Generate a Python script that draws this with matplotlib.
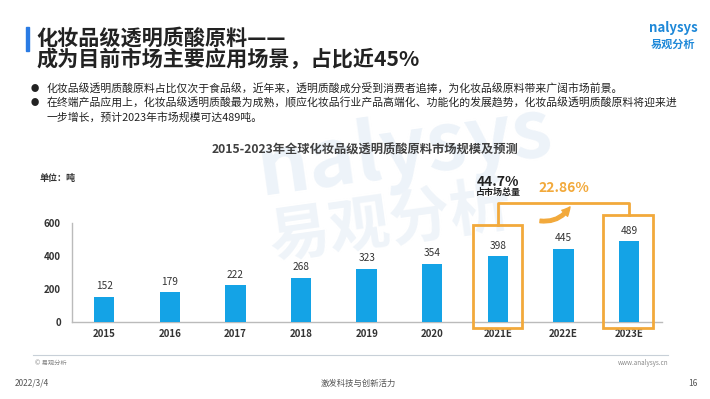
import numpy as np
import matplotlib.pyplot as plt
from matplotlib.patches import Rectangle, FancyArrowPatch

plt.rcParams['font.family'] = ['Noto Sans CJK SC', 'DejaVu Sans']

# data
years = ['2015', '2016', '2017', '2018', '2019', '2020', '2021E', '2022E', '2023E']
tons = [152, 179, 222, 268, 323, 354, 398, 445, 489]
y_ticks = [0, 200, 400, 600]

blue = '#14A3E6'
orange = '#F2A93B'
dark = '#333333'

fig = plt.figure(figsize=(7.1, 3.99), dpi=100)
fig.patch.set_facecolor('white')

# faint background watermark
fig.text(0.57, 0.62, 'nalysys', fontsize=58, color='#EDF3F9', ha='center',
         va='center', rotation=8, fontweight='bold', zorder=-5)
fig.text(0.55, 0.44, '易观分析', fontsize=44, color='#EFF4F9', ha='center',
         va='center', rotation=8, fontweight='bold', zorder=-5)

# header
fig.add_artist(Rectangle((26 / 710, 1 - 51 / 399), 3 / 710, 24 / 399,
                         transform=fig.transFigure, color='#2A7BE4'))
fig.text(36 / 710, 1 - 38 / 399, '化妆品级透明质酸原料——', fontsize=15.2,
         fontweight='bold', color='#222222', va='center')
fig.text(36 / 710, 1 - 59 / 399, '成为目前市场主要应用场景，占比近45%', fontsize=15.2,
         fontweight='bold', color='#222222', va='center')
fig.text(673 / 710, 1 - 28 / 399, 'nalysys', fontsize=9.5, color='#1E88D8',
         ha='center', va='center', fontweight='bold')
fig.text(673 / 710, 1 - 44 / 399, '易观分析', fontsize=8, color='#1E88D8',
         ha='center', va='center', fontweight='bold')

bullets = [
    (88, '●', '化妆品级透明质酸原料占比仅次于食品级，近年来，透明质酸成分受到消费者追捧，为化妆品级原料带来广阔市场前景。'),
    (103, '●', '在终端产品应用上，化妆品级透明质酸最为成熟，顺应化妆品行业产品高端化、功能化的发展趋势，化妆品级透明质酸原料将迎来进'),
    (117, '', '一步增长，预计2023年市场规模可达489吨。'),
]
for yy, b, t in bullets:
    if b:
        fig.text(35 / 710, 1 - yy / 399, b, fontsize=6, color='#222222', va='center', ha='center')
    fig.text(47 / 710, 1 - yy / 399, t, fontsize=7.8, color='#222222', va='center')

fig.text(365 / 710, 1 - 150 / 399, '2015-2023年全球化妆品级透明质酸原料市场规模及预测',
         fontsize=8.8, fontweight='bold', color='#404040', ha='center', va='center')
fig.text(40 / 710, 1 - 179 / 399, '单位：吨', fontsize=6.5, fontweight='bold',
         color=dark, va='center')

# chart
ax = fig.add_axes([72 / 710, 77 / 399, 590 / 710, 99 / 399])
ax.patch.set_alpha(0)
x = np.arange(len(years))
ax.bar(x, tons, width=0.31, color=blue, zorder=3)
for xi, v in zip(x, tons):
    ax.text(xi, v + 35, str(v), ha='center', va='bottom', fontsize=7.3, color=dark)

ax.set_xlim(-0.49, 8.5)
ax.set_ylim(0, 600)
ax.set_yticks(y_ticks)
ax.set_xticks(x)
ax.set_xticklabels(years)
ax.tick_params(length=0, labelsize=7, labelcolor=dark)
ax.tick_params(axis='x', pad=5)
ax.tick_params(axis='y', pad=8)
for lab in ax.get_xticklabels() + ax.get_yticklabels():
    lab.set_fontweight('bold')
for s in ['top', 'right']:
    ax.spines[s].set_visible(False)
for s in ['left', 'bottom']:
    ax.spines[s].set_color('#BBBBBB')
    ax.spines[s].set_linewidth(1)

# highlight boxes
ax.add_patch(Rectangle((5.62, -36), 0.75, 624, fill=False, ec=orange, lw=2, clip_on=False, zorder=4))
ax.add_patch(Rectangle((7.6, -36), 0.77, 684, fill=False, ec=orange, lw=2, clip_on=False, zorder=4))
ax.plot([6, 6, 8, 8], [588, 721, 721, 648], color=orange, lw=2, clip_on=False, zorder=4)
ax.add_patch(FancyArrowPatch((6.6, 615), (7.12, 712), connectionstyle='arc3,rad=0.35',
                             arrowstyle='simple,head_width=6,head_length=6,tail_width=2.5',
                             color=orange, clip_on=False, zorder=5))
ax.text(7.0, 812, '22.86%', ha='center', va='center', fontsize=10,
        fontweight='bold', color=orange, zorder=6)
ax.text(6.0, 850, '44.7%', ha='center', va='center', fontsize=10,
        fontweight='bold', color='#222222', zorder=6)
ax.text(6.0, 782, '占市场总量', ha='center', va='center', fontsize=6.5,
        fontweight='bold', color='#222222', zorder=6)

# footer
fig.add_artist(plt.Line2D([33 / 710, 668 / 710], [1 - 355 / 399, 1 - 355 / 399],
                          transform=fig.transFigure, color='#C8D0D8', lw=0.8))
fig.text(35 / 710, 1 - 363 / 399, '© 易观分析', fontsize=4.5, color='#888888', va='center')
fig.text(668 / 710, 1 - 363 / 399, 'www.analysys.cn', fontsize=4.5, color='#888888',
         va='center', ha='right')
fig.text(15 / 710, 1 - 383 / 399, '2022/3/4', fontsize=6, color='#555555', va='center')
fig.text(358 / 710, 1 - 383 / 399, '激发科技与创新活力', fontsize=6, color='#555555',
         va='center', ha='center')
fig.text(693 / 710, 1 - 383 / 399, '16', fontsize=6, color='#555555', va='center', ha='center')

fig.savefig('out.png', dpi=100)
